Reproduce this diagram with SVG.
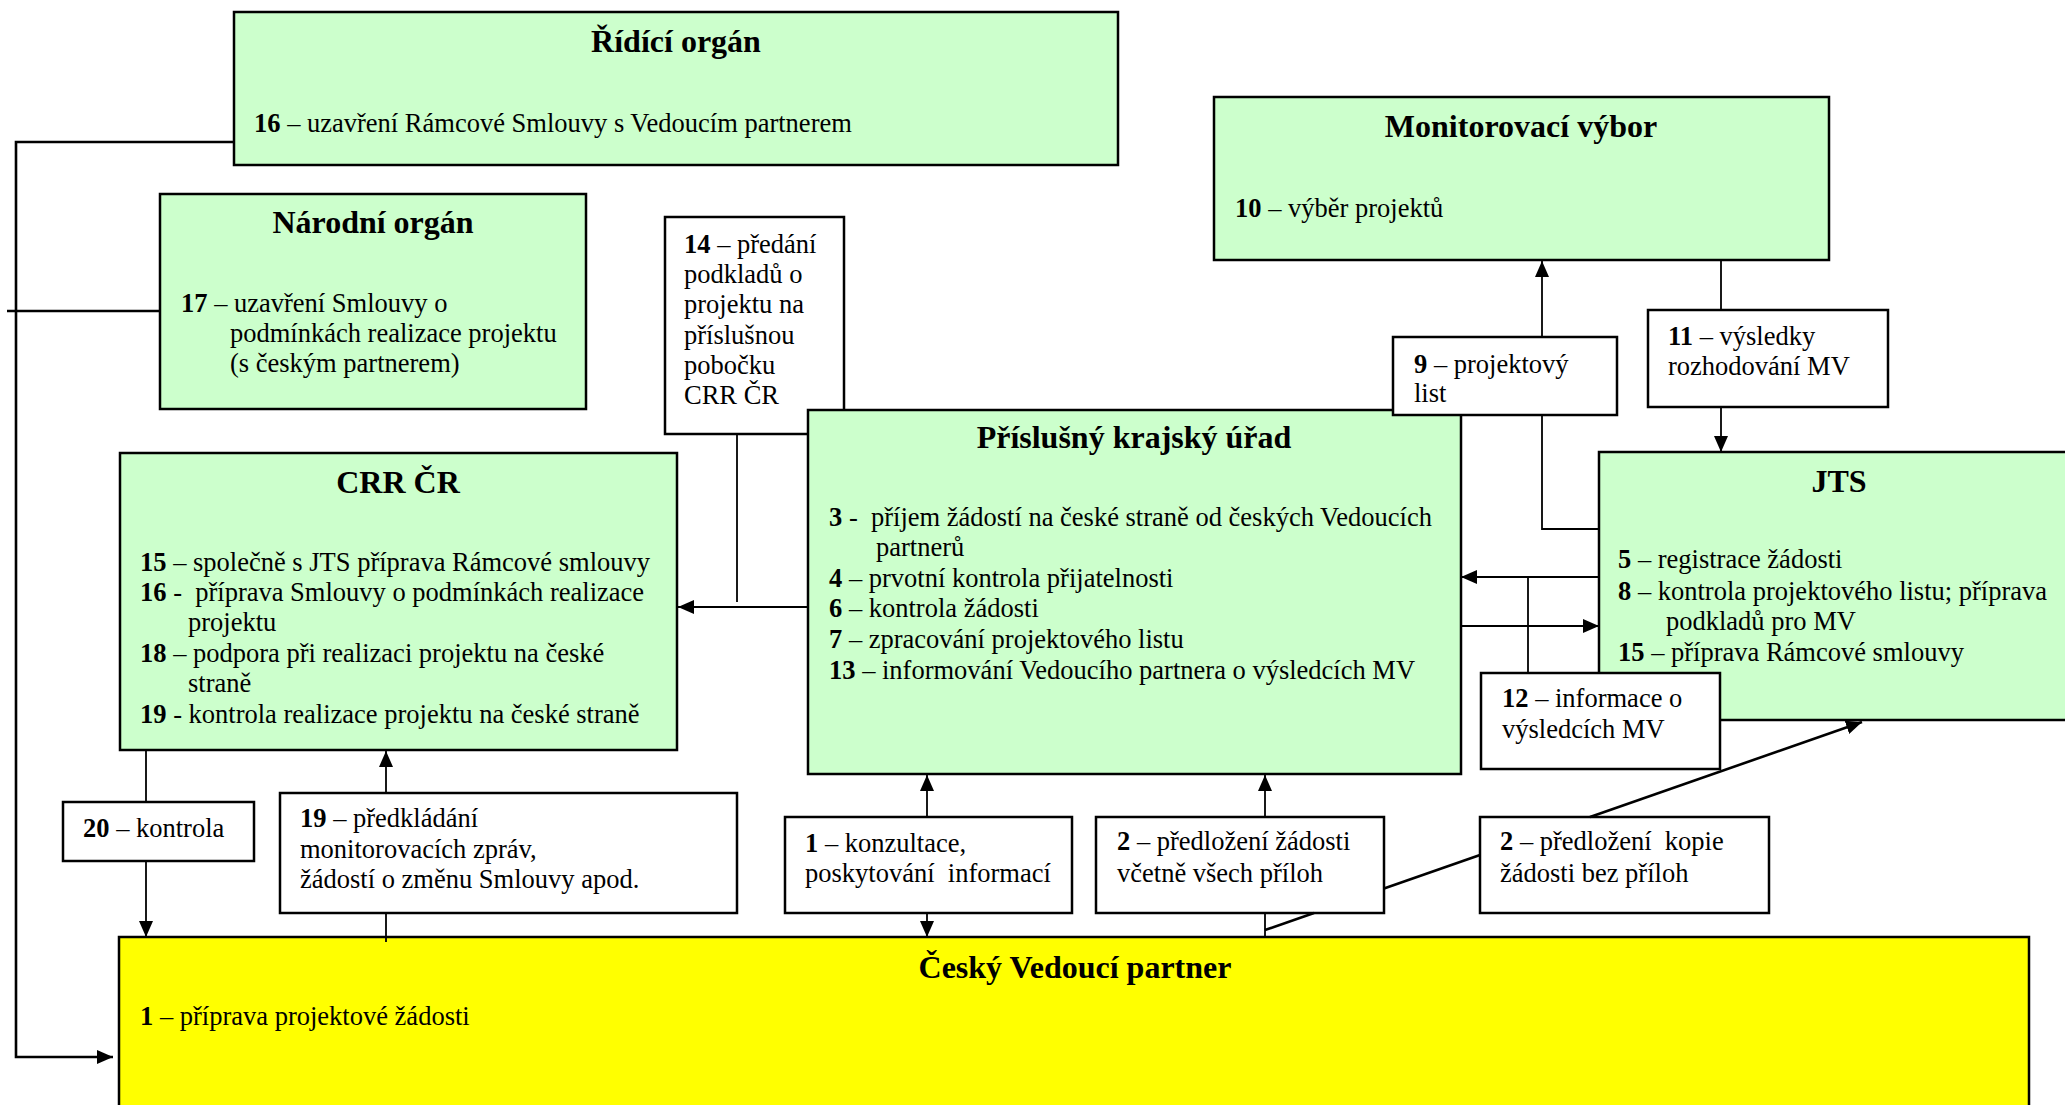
<svg xmlns="http://www.w3.org/2000/svg" width="2065" height="1105" viewBox="0 0 2065 1105" xml:space="preserve">
<defs>
<style>
.box{stroke:#000;stroke-width:2.5}
.g{fill:#CCFFCC}
.w{fill:#FFFFFF}
.y{fill:#FFFF00}
.t{font-family:"Liberation Serif","Times New Roman",serif;font-size:26.5px;fill:#000;white-space:pre}
.h{font-family:"Liberation Serif","Times New Roman",serif;font-size:32px;font-weight:bold;fill:#000;text-anchor:middle}
.b{font-weight:bold}
.c{fill:none;stroke:#000;stroke-width:1.8}
.c2{fill:none;stroke:#000;stroke-width:2.6}
</style>
<marker id="ah" markerUnits="userSpaceOnUse" markerWidth="16" markerHeight="14" refX="16" refY="7" orient="auto"><path d="M0,0 L16,7 L0,14 z" fill="#000"/></marker>
</defs>
<rect width="2065" height="1105" fill="#FFFFFF"/>

<g id="ridici-organ">
<rect class="box g" x="234" y="12" width="884" height="153"/>
<text class="h" x="676" y="52">Řídící orgán</text>
<text class="t" x="254" y="132"><tspan class="b">16</tspan> – uzavření Rámcové Smlouvy s Vedoucím partnerem</text>
</g>

<g id="narodni-organ">
<rect class="box g" x="160" y="194" width="426" height="215"/>
<text class="h" x="373" y="233">Národní orgán</text>
<text class="t" x="181" y="312"><tspan class="b">17</tspan> – uzavření Smlouvy o</text>
<text class="t" x="230" y="342">podmínkách realizace projektu</text>
<text class="t" x="230" y="372">(s českým partnerem)</text>
</g>

<g id="box-14">
<rect class="box w" x="665" y="217" width="179" height="217"/>
<text class="t" x="684" y="253"><tspan class="b">14</tspan> – předání</text>
<text class="t" x="684" y="283">podkladů o</text>
<text class="t" x="684" y="313">projektu na</text>
<text class="t" x="684" y="344">příslušnou</text>
<text class="t" x="684" y="374">pobočku</text>
<text class="t" x="684" y="404">CRR ČR</text>
</g>

<g id="crr">
<rect class="box g" x="120" y="453" width="557" height="297"/>
<text class="h" x="398" y="493">CRR ČR</text>
<text class="t" x="140" y="571"><tspan class="b">15</tspan> – společně s JTS příprava Rámcové smlouvy</text>
<text class="t" x="140" y="601"><tspan class="b">16</tspan> -  příprava Smlouvy o podmínkách realizace</text>
<text class="t" x="188" y="631">projektu</text>
<text class="t" x="140" y="662"><tspan class="b">18</tspan> – podpora při realizaci projektu na české</text>
<text class="t" x="188" y="692">straně</text>
<text class="t" x="140" y="723"><tspan class="b">19</tspan> - kontrola realizace projektu na české straně</text>
</g>

<g id="krajsky-urad">
<rect class="box g" x="808" y="410" width="653" height="364"/>
<text class="h" x="1134" y="448">Příslušný krajský úřad</text>
<text class="t" x="829" y="526"><tspan class="b">3</tspan> -  příjem žádostí na české straně od českých Vedoucích</text>
<text class="t" x="876" y="556">partnerů</text>
<text class="t" x="829" y="587"><tspan class="b">4</tspan> – prvotní kontrola přijatelnosti</text>
<text class="t" x="829" y="617"><tspan class="b">6</tspan> – kontrola žádosti</text>
<text class="t" x="829" y="648"><tspan class="b">7</tspan> – zpracování projektového listu</text>
<text class="t" x="829" y="679"><tspan class="b">13</tspan> – informování Vedoucího partnera o výsledcích MV</text>
</g>

<g id="box-9">
<rect class="box w" x="1393" y="337" width="224" height="78"/>
<text class="t" x="1414" y="373"><tspan class="b">9</tspan> – projektový</text>
<text class="t" x="1414" y="402">list</text>
</g>

<g id="monitorovaci-vybor">
<rect class="box g" x="1214" y="97" width="615" height="163"/>
<text class="h" x="1521" y="137">Monitorovací výbor</text>
<text class="t" x="1235" y="217"><tspan class="b">10</tspan> – výběr projektů</text>
</g>

<g id="box-11">
<rect class="box w" x="1648" y="310" width="240" height="97"/>
<text class="t" x="1668" y="345"><tspan class="b">11</tspan> – výsledky</text>
<text class="t" x="1668" y="375">rozhodování MV</text>
</g>

<g id="jts">
<rect class="box g" x="1599" y="452" width="481" height="268"/>
<text class="h" x="1839" y="492">JTS</text>
<text class="t" x="1618" y="568"><tspan class="b">5</tspan> – registrace žádosti</text>
<text class="t" x="1618" y="600"><tspan class="b">8</tspan> – kontrola projektového listu; příprava</text>
<text class="t" x="1666" y="630">podkladů pro MV</text>
<text class="t" x="1618" y="661"><tspan class="b">15</tspan> – příprava Rámcové smlouvy</text>
</g>

<g id="box-12">
<rect class="box w" x="1481" y="673" width="239" height="96"/>
<text class="t" x="1502" y="707"><tspan class="b">12</tspan> – informace o</text>
<text class="t" x="1502" y="738">výsledcích MV</text>
</g>

<g id="box-20">
<rect class="box w" x="63" y="802" width="191" height="59"/>
<text class="t" x="83" y="837"><tspan class="b">20</tspan> – kontrola</text>
</g>

<g id="box-19">
<rect class="box w" x="280" y="793" width="457" height="120"/>
<text class="t" x="300" y="827"><tspan class="b">19</tspan> – předkládání</text>
<text class="t" x="300" y="858">monitorovacích zpráv,</text>
<text class="t" x="300" y="888">žádostí o změnu Smlouvy apod.</text>
</g>

<g id="box-1">
<rect class="box w" x="785" y="817" width="287" height="96"/>
<text class="t" x="805" y="852"><tspan class="b">1</tspan> – konzultace,</text>
<text class="t" x="805" y="882">poskytování  informací</text>
</g>

<g id="box-2a">
<rect class="box w" x="1096" y="817" width="288" height="96"/>
<text class="t" x="1117" y="850"><tspan class="b">2</tspan> – předložení žádosti</text>
<text class="t" x="1117" y="882">včetně všech příloh</text>
</g>

<g id="box-2b">
<rect class="box w" x="1480" y="817" width="289" height="96"/>
<text class="t" x="1500" y="850"><tspan class="b">2</tspan> – předložení  kopie</text>
<text class="t" x="1500" y="882">žádosti bez příloh</text>
</g>

<g id="cesky-vedouci-partner">
<rect class="box y" x="119" y="937" width="1910" height="190"/>
<text class="h" x="1075" y="978">Český Vedoucí partner</text>
<text class="t" x="140" y="1025"><tspan class="b">1</tspan> – příprava projektové žádosti</text>
</g>

<g id="connectors">
<polyline class="c2" points="234,142 16,142 16,1057 113,1057" marker-end="url(#ah)"/>
<line class="c2" x1="7" y1="311" x2="160" y2="311"/>
<line class="c" x1="737" y1="434" x2="737" y2="602"/>
<line class="c" x1="808" y1="607" x2="678" y2="607" marker-end="url(#ah)"/>
<line class="c" x1="1542" y1="337" x2="1542" y2="261" marker-end="url(#ah)"/>
<polyline class="c" points="1542,416 1542,529 1599,529"/>
<line class="c" x1="1721" y1="261" x2="1721" y2="310"/>
<line class="c" x1="1721" y1="407" x2="1721" y2="452" marker-end="url(#ah)"/>
<line class="c" x1="1599" y1="577" x2="1461" y2="577" marker-end="url(#ah)"/>
<line class="c" x1="1461" y1="626" x2="1599" y2="626" marker-end="url(#ah)"/>
<line class="c" x1="1528" y1="577" x2="1528" y2="673"/>
<line class="c" x1="146" y1="750" x2="146" y2="802"/>
<line class="c" x1="146" y1="861" x2="146" y2="937" marker-end="url(#ah)"/>
<line class="c" x1="386" y1="942" x2="386" y2="913"/>
<line class="c" x1="386" y1="793" x2="386" y2="751" marker-end="url(#ah)"/>
<line class="c" x1="927" y1="817" x2="927" y2="775" marker-end="url(#ah)"/>
<line class="c" x1="927" y1="913" x2="927" y2="937" marker-end="url(#ah)"/>
<line class="c" x1="1265" y1="817" x2="1265" y2="775" marker-end="url(#ah)"/>
<line class="c" x1="1265" y1="913" x2="1265" y2="937"/>
<line class="c2" x1="1265" y1="930" x2="1314" y2="913"/>
<line class="c2" x1="1384" y1="888.5" x2="1480" y2="855"/>
<line class="c2" x1="1590" y1="817" x2="1862" y2="722" marker-end="url(#ah)"/>
</g>
</svg>
